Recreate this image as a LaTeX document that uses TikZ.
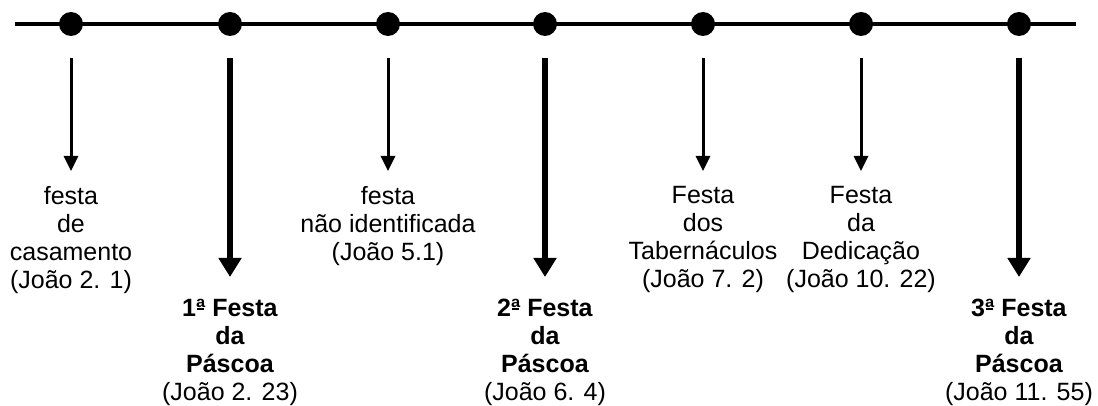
\documentclass[tikz,border=0pt]{standalone}
\usepackage{fontspec}
\setmainfont{Liberation Sans}
\usetikzlibrary{arrows.meta}

% feminine ordinal with the bar beneath it, as in Arial
\newcommand\ordfem{\hbox{ª\llap{\rule[0.27em]{0.27em}{0.065em}\kern0.05em}}}

\tikzset{
  timeline/.style={line width=4.5pt},
  eventdot/.style={circle, fill=black, inner sep=0pt, minimum size=24pt},
  minorarrow/.style={line width=3pt, -{Triangle[length=15pt,width=14pt]}, shorten >=15pt},
  majorarrow/.style={line width=5.5pt, -{Triangle[length=19pt,width=22pt]}, shorten >=22pt},
  label/.style={anchor=north, align=center, inner sep=0pt,
    font=\fontsize{25pt}{28pt}\selectfont},
}

\begin{document}
\begin{tikzpicture}[x=1pt, y=-1pt]
  \useasboundingbox (0,0) rectangle (1098,406);

  % main time axis
  \coordinate (left) at (15,24);
  \coordinate (right) at (1076,24);
  \draw[timeline] (left) -- (right);

  % events on the axis
  \foreach \i/\x in {1/71, 2/230, 3/388, 4/545, 5/703, 6/861, 7/1019} {
    \node[eventdot] (d\i) at (\x,24) {};
    \coordinate (s\i) at (\x,58);
  }

  % minor feasts
  \node[label] (t1) at (71,186) {festa\\de\\casamento\\(João 2. 1)};
  \node[label] (t3) at (388,186) {festa\\não identificada\\(João 5.1)};
  \node[label] (t5) at (703,186) {Festa\\dos\\Tabernáculos\\(João 7. 2)};
  \node[label] (t6) at (861,186) {Festa\\da\\Dedicação\\(João 10. 22)};

  % the three Passovers
  \node[label] (t2) at (230,299) {\textbf{1\ordfem{} Festa}\\\textbf{da}\\\textbf{Páscoa}\\(João 2. 23)};
  \node[label] (t4) at (545,299) {\textbf{2\ordfem{} Festa}\\\textbf{da}\\\textbf{Páscoa}\\(João 6. 4)};
  \node[label] (t7) at (1019,299) {\textbf{3\ordfem{} Festa}\\\textbf{da}\\\textbf{Páscoa}\\(João 11. 55)};

  % arrows from the axis to the labels
  \draw[minorarrow] (s1) -- (t1.north);
  \draw[minorarrow] (s3) -- (t3.north);
  \draw[minorarrow] (s5) -- (t5.north);
  \draw[minorarrow] (s6) -- (t6.north);
  \draw[majorarrow] (s2) -- (t2.north);
  \draw[majorarrow] (s4) -- (t4.north);
  \draw[majorarrow] (s7) -- (t7.north);
\end{tikzpicture}
\end{document}
